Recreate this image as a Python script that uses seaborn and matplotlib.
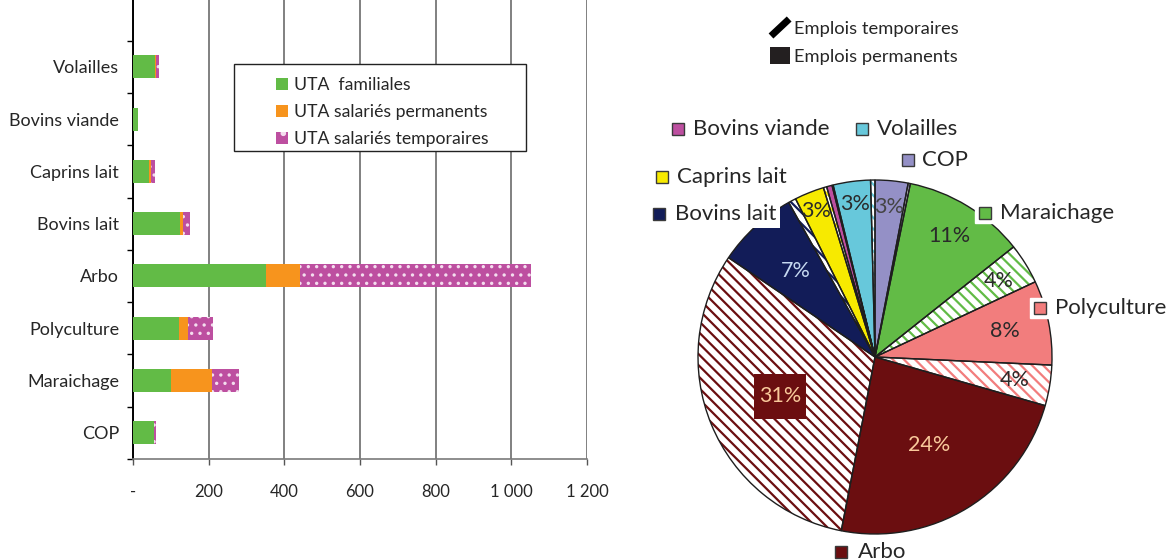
import numpy as np
import matplotlib
matplotlib.use("Agg")
import matplotlib.pyplot as plt
import seaborn as sns
from matplotlib.patches import Patch, Rectangle
from matplotlib.lines import Line2D
from matplotlib.legend_handler import HandlerBase
from matplotlib.ticker import FixedLocator

# ---------------- Data: stacked bar chart (UTA) ----------------
categories = ["Volailles", "Bovins viande", "Caprins lait", "Bovins lait",
              "Arbo", "Polyculture", "Maraichage", "COP"]
uta_familiales = [58, 12, 42, 123, 352, 122, 101, 56]
uta_permanents = [2, 0, 5, 9, 90, 23, 108, 0]
uta_temporaires = [8, 0, 10, 18, 611, 67, 71, 5]
series_labels = ["UTA  familiales", "UTA salariés permanents", "UTA salariés temporaires"]
x_ticks = [0, 200, 400, 600, 800, 1000, 1200]
x_tick_labels = ["-", "200", "400", "600", "800", "1 000", "1 200"]

# ---------------- Data: pie chart (% of jobs) ----------------
pie_categories = ["COP", "Maraichage", "Polyculture", "Arbo",
                  "Bovins lait", "Caprins lait", "Bovins viande", "Volailles"]
pie_permanents = [3.0, 11.1, 7.7, 23.6, 7.4, 2.7, 0.5, 3.4]
pie_temporaires = [0.2, 3.7, 3.7, 31.4, 0.7, 0.3, 0.1, 0.4]
pie_legend_labels = ["Emplois temporaires", "Emplois permanents"]

# ---------------- Style ----------------
GREEN, ORANGE, PURPLE = "#62BB46", "#F7941D", "#BD4FA0"
pie_colors = {"COP": "#9490C6", "Maraichage": "#62BB46", "Polyculture": "#F27D7D",
              "Arbo": "#6B0E10", "Bovins lait": "#121C58", "Caprins lait": "#F7EA00",
              "Bovins viande": "#BD4FA0", "Volailles": "#67C8DB"}
TXT = "#262626"

sns.set_style("white")
plt.rcParams["font.family"] = ["Lato", "DejaVu Sans"]
plt.rcParams["hatch.linewidth"] = 1.6
plt.rcParams["text.color"] = TXT

W, H = 1166, 560
fig = plt.figure(figsize=(W / 100, H / 100), dpi=100)

# ================= Bar chart =================
ax = fig.add_axes([133 / W, (H - 459) / H, (587 - 133) / W, 459 / H])
fam = np.array(uta_familiales, dtype=float)
perm = np.array(uta_permanents, dtype=float)
temp = np.array(uta_temporaires, dtype=float)

bw = 0.44
with plt.rc_context({"hatch.linewidth": 1.2}):
    sns.barplot(x=fam + perm + temp, y=categories, orient="h", color=PURPLE, saturation=1,
                width=bw, hatch="..", edgecolor="#F4DDEE", linewidth=0, errorbar=None, ax=ax,
                zorder=3)
sns.barplot(x=fam + perm, y=categories, orient="h", color=ORANGE, saturation=1,
            width=bw, linewidth=0, errorbar=None, ax=ax, zorder=4)
sns.barplot(x=fam, y=categories, orient="h", color=GREEN, saturation=1,
            width=bw, linewidth=0, errorbar=None, ax=ax, zorder=5)

n = len(categories)
ax.set_ylim(n - 0.5, n - 0.5 - 459 / 52.3)
ax.set_xlim(0, 1200)
ax.set_xticks(x_ticks)
ax.set_xticklabels(x_tick_labels)
ax.set_xlabel("")
ax.set_ylabel("")
ax.grid(axis="x", color="#5E5E5E", linewidth=1.1, zorder=0)
ax.grid(axis="y", visible=False)
ax.set_axisbelow(True)
for s in ["top", "right"]:
    ax.spines[s].set_visible(False)
ax.spines["left"].set_color("black")
ax.spines["left"].set_linewidth(1.4)
ax.spines["bottom"].set_color("#7A7A7A")
ax.spines["bottom"].set_linewidth(1.2)
ax.tick_params(axis="x", direction="out", length=4, width=1, color="#555555",
               pad=14, labelsize=12, labelcolor=TXT, bottom=True)
ax.tick_params(axis="y", which="major", length=0, pad=10, labelsize=13, labelcolor=TXT, left=True)
ax.yaxis.set_minor_locator(FixedLocator(np.arange(-1.5, n, 1.0)))
ax.tick_params(axis="y", which="minor", direction="out", length=4.5, width=1, color="black", left=True)

# legend box (Excel-like, wide frame)
box = Rectangle(((234 - 133) / 454, 1 - 151 / 459), (526 - 234) / 454, (151 - 64) / 459,
                transform=ax.transAxes, facecolor="white", edgecolor="#222222", linewidth=1.0, zorder=6)
ax.add_patch(box)
handles = [Patch(facecolor=GREEN, linewidth=0),
           Patch(facecolor=ORANGE, linewidth=0),
           Patch(facecolor=PURPLE, hatch=".", edgecolor="#F4DDEE", linewidth=0)]
leg = ax.legend(handles, series_labels, loc="upper left",
                bbox_to_anchor=((276 - 133) / 454, 1 - 77 / 459), frameon=False,
                borderpad=0, borderaxespad=0, handlelength=0.68, handleheight=0.68,
                handletextpad=0.33, labelspacing=0.62, fontsize=12.7)
leg.set_zorder(7)

# ================= Pie chart =================
R = 177.0
cx, cy = 875.0, 357.0
pax = fig.add_axes([640 / W, 0, (W - 640) / W, 1])

values, colors, is_temp = [], [], []
for c, p, t in zip(pie_categories, pie_permanents, pie_temporaires):
    values += [p, t]
    colors += [pie_colors[c], pie_colors[c]]
    is_temp += [False, True]

wedges, _ = pax.pie(values, colors=colors, startangle=90, counterclock=False,
                    wedgeprops=dict(linewidth=0))
for w, col, tmp in zip(wedges, colors, is_temp):
    if tmp:
        w.set_facecolor("white")
        w.set_edgecolor(col)
        w.set_hatch("\\\\\\")
        w.set_linewidth(0)
pax.pie(values, colors=["none"] * len(values), startangle=90, counterclock=False,
        wedgeprops=dict(linewidth=1.0, edgecolor="#1E1E1E", facecolor="none"))

def px2d(x, y):
    return (x - cx) / R, (cy - y) / R

pax.set_xlim(*[(v - cx) / R for v in (640, W)])
pax.set_ylim((cy - H) / R, cy / R)
pax.set_aspect("auto")
pax.axis("off")

# percentage labels
label_radius = {0: 0.85, 2: 0.80, 3: 0.82, 4: 0.75, 5: 0.80, 6: 0.58, 7: 0.58, 8: 0.66, 10: 0.89, 14: 0.87}
label_color = {6: "#F9C99B", 7: "#F9C99B", 8: "#C6D9F1", 0: "#444444"}
for i, (w, v) in enumerate(zip(wedges, values)):
    if v < 2.5:
        continue
    ang = np.deg2rad((w.theta1 + w.theta2) / 2)
    r = label_radius.get(i, 0.8)
    lx, ly = r * np.cos(ang), r * np.sin(ang)
    if i == 7:
        bw_, bh_ = 52 / R, 45 / R
        pax.add_patch(Rectangle((lx - bw_ / 2, ly - bh_ / 2), bw_, bh_, facecolor="#6B0E10",
                                edgecolor="none", zorder=9))
    pax.text(lx, ly, f"{round(v)}%", ha="center", va="center",
             fontsize=15.5, color=label_color.get(i, "#2A2A2A"), zorder=10)

# category labels around the pie
cat_label_pos = {"Bovins viande": (678, 693, 129), "Volailles": (862, 877, 129),
                 "COP": (908, 922, 160), "Caprins lait": (662, 677, 177),
                 "Bovins lait": (659, 675, 214), "Maraichage": (985, 1000, 213),
                 "Polyculture": (1040, 1055, 308), "Arbo": (841, 858, 552)}
for c in pie_categories:
    mx, tx, ty = cat_label_pos[c]
    x0, y0 = px2d(tx, ty)
    pax.text(x0, y0, c, ha="left", va="center", fontsize=16, color=TXT, zorder=11,
             bbox=dict(facecolor="white", edgecolor="none", pad=2.5), clip_on=False)
    m0 = px2d(mx, ty)
    pax.plot([m0[0]], [m0[1]], marker="s", markersize=15, color="white", zorder=12, clip_on=False)
    pax.plot([m0[0]], [m0[1]], marker="s", markersize=8.6, markerfacecolor=pie_colors[c],
             markeredgecolor="#3A3A3A", markeredgewidth=1.0, zorder=13, clip_on=False)


# employment-type legend
class DiagonalHandler(HandlerBase):
    def create_artists(self, legend, orig_handle, xdescent, ydescent, width, height, fontsize, trans):
        line = Line2D([-xdescent + width * 0.05, -xdescent + width * 0.95],
                      [-ydescent + height * 0.0, -ydescent + height * 1.0],
                      color="black", linewidth=5.0, solid_capstyle="butt", transform=trans)
        return [line]


temp_handle = Line2D([], [], color="black")
perm_handle = Patch(facecolor="#231F20", linewidth=0)
fig.legend([temp_handle, perm_handle], pie_legend_labels, loc="upper left",
           bbox_to_anchor=(770 / W, 1 - 19 / H), frameon=False, borderpad=0, borderaxespad=0,
           handlelength=1.1, handleheight=1.05, handletextpad=0.2, labelspacing=0.55,
           fontsize=13.2, handler_map={Line2D: DiagonalHandler()})

fig.savefig("out.png", dpi=100)
